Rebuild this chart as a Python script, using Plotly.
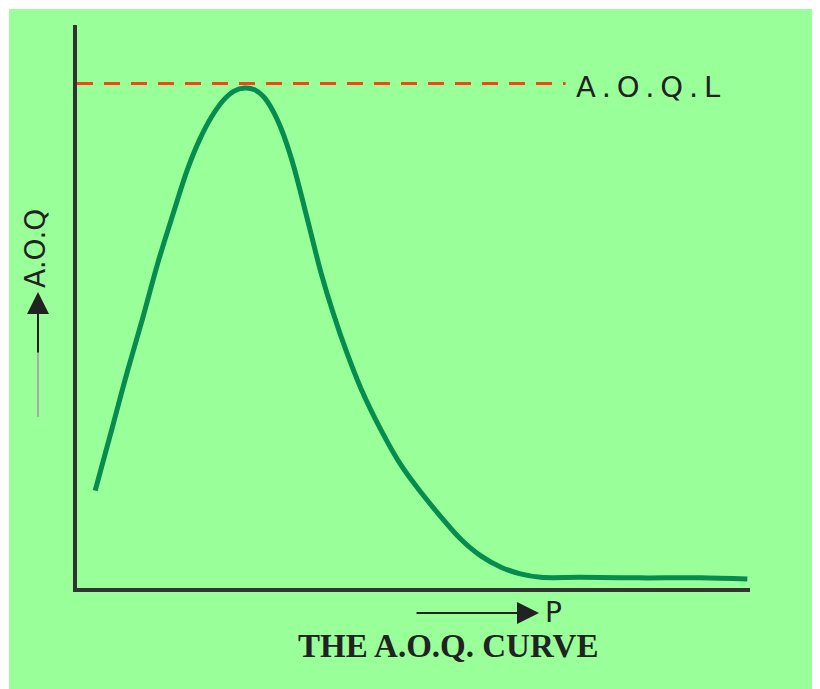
import plotly.graph_objects as go

# ---- data ----
p_values = [0.027, 0.052, 0.074, 0.098, 0.121, 0.144, 0.164, 0.182, 0.200, 0.218,
            0.234, 0.249, 0.264, 0.277, 0.290, 0.304, 0.319, 0.333, 0.348, 0.363,
            0.381, 0.400, 0.422, 0.452, 0.481, 0.511, 0.541, 0.570, 0.600, 0.630,
            0.659, 0.689, 0.748, 0.837, 0.926, 0.996]
aoq_values = [0.173, 0.283, 0.381, 0.481, 0.581, 0.669, 0.743, 0.796, 0.837, 0.867,
              0.883, 0.888, 0.885, 0.873, 0.850, 0.814, 0.761, 0.699, 0.628, 0.558,
              0.487, 0.421, 0.354, 0.280, 0.219, 0.170, 0.126, 0.087, 0.057, 0.037,
              0.025, 0.019, 0.019, 0.018, 0.018, 0.016]
aoql_level = 0.896
aoql_p_range = [0.0, 0.726]

title_text = "THE A.O.Q. CURVE"
aoql_label = "A\u2009.\u2009O\u2009.\u2009Q\u2009.\u2009L"
y_label = "A.O.Q"
x_label = "P"

# page has an 8px body margin; figure fills the rest of the 820x689 window
OFF = 8
W, H = 820 - OFF, 689 - OFF
PL, PR, PT, PB = 77, 750, 25, 588          # plot area in window pixels
L, R, T, B = PL - OFF, W - (PR - OFF), PT - OFF, H - (PB - OFF)
pw, ph = PR - PL, PB - PT


def px_x(px):
    return (px - PL) / pw


def px_y(py):
    return (PB - py) / ph


fig = go.Figure()

fig.add_trace(go.Scatter(
    x=aoql_p_range, y=[aoql_level, aoql_level], mode="lines",
    line=dict(color="#ff4010", width=3, dash="16px,11px"),
    hoverinfo="skip", showlegend=False))

fig.add_trace(go.Scatter(
    x=p_values, y=aoq_values, mode="lines",
    line=dict(color="#068c4e", width=5, shape="spline", smoothing=1.0),
    showlegend=False))

axis_common = dict(showgrid=False, zeroline=False, showticklabels=False, ticks="",
                   showline=True, linecolor="#333333", linewidth=4, fixedrange=True)

fig.update_layout(
    width=W, height=H, autosize=False,
    margin=dict(l=L, r=R, t=T, b=B, pad=0),
    paper_bgcolor="white",
    plot_bgcolor="rgba(0,0,0,0)",
    xaxis=dict(range=[0, 1], **axis_common),
    yaxis=dict(range=[0, 1], **axis_common),
    shapes=[
        dict(type="rect", xref="paper", yref="paper", layer="below",
             x0=px_x(9), x1=px_x(830), y0=px_y(700), y1=px_y(9),
             fillcolor="#99ff99", line=dict(width=0)),
        dict(type="line", xref="paper", yref="paper",
             x0=px_x(38), x1=px_x(38), y0=px_y(417), y1=px_y(352),
             line=dict(color="#aaaaaa", width=2)),
    ],
    annotations=[
        dict(xref="paper", yref="paper", x=px_x(574), y=px_y(87), text=aoql_label,
             showarrow=False, xanchor="left", yanchor="middle",
             font=dict(family="DejaVu Sans", size=29, color="#222222")),
        dict(xref="paper", yref="paper", x=px_x(35), y=px_y(249), text=y_label,
             textangle=-90, showarrow=False, xanchor="center", yanchor="middle",
             font=dict(family="DejaVu Sans", size=28, color="#222222")),
        dict(xref="paper", yref="paper", x=px_x(38), y=px_y(292), text="",
             showarrow=True, ax=0, ay=62, arrowhead=2, arrowsize=2.2, arrowwidth=2,
             arrowcolor="#222222", standoff=0),
        dict(xref="paper", yref="paper", x=px_x(539), y=px_y(613), text="",
             showarrow=True, ax=-124, ay=0, arrowhead=2, arrowsize=2.2, arrowwidth=2,
             arrowcolor="#222222", standoff=0),
        dict(xref="paper", yref="paper", x=px_x(543), y=px_y(612), text=x_label,
             showarrow=False, xanchor="left", yanchor="middle",
             font=dict(family="DejaVu Sans", size=28, color="#222222")),
        dict(xref="paper", yref="paper", x=px_x(448), y=px_y(646),
             text="<b>" + title_text + "</b>",
             showarrow=False, xanchor="center", yanchor="middle",
             font=dict(family="Liberation Serif", size=33, color="#222222")),
    ],
)

fig.write_html("out.html")
